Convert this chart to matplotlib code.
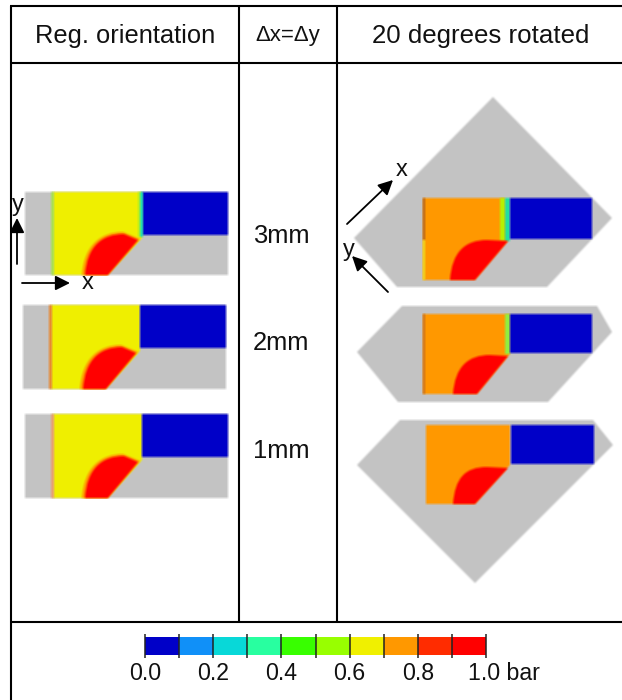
import numpy as np
import matplotlib
matplotlib.use('Agg')
import matplotlib.pyplot as plt
from matplotlib.patches import Polygon, Rectangle, PathPatch
from matplotlib.path import Path

plt.rcParams['font.family'] = ['Liberation Sans', 'DejaVu Sans']

# colour scale
levels = [0.0, 0.1, 0.2, 0.3, 0.4, 0.5, 0.6, 0.7, 0.8, 0.9, 1.0]
level_colors = ['#0000c8', '#1090f8', '#08d8d8', '#28ffa0', '#38ff00',
                '#98ff00', '#f0f000', '#ff9800', '#ff2c00', '#ff0000']
tick_values = [0.0, 0.2, 0.4, 0.6, 0.8, 1.0]
tick_labels = ['0.0', '0.2', '0.4', '0.6', '0.8', '1.0 bar']

# table text
headers = ['Reg. orientation', '\u0394x=\u0394y', '20 degrees rotated']
spacings = ['3mm', '2mm', '1mm']
spacing_y = [236, 343, 451]

GREY = '#c3c3c3'
BLUE = '#0000c8'
YELLOW = '#f0f000'
ORANGE = '#ff9800'
RED = '#ff0000'


def soften(img, dpi):
    # small blur, the original is a scaled up screenshot
    pad = 3
    img = np.pad(img, ((pad, pad), (pad, pad), (0, 0)))
    a = img[:, :, 3:]
    pm = np.concatenate([img[:, :, :3] * a, a], axis=2)
    for axis in (0, 1):
        pm = (np.roll(pm, 1, axis) + pm + np.roll(pm, -1, axis)) / 3
    al = pm[:, :, 3:]
    rgb = np.where(al > 0, pm[:, :, :3] / np.maximum(al, 1e-6), 0)
    return np.concatenate([rgb, al], axis=2), -pad, -pad


fig = plt.figure(figsize=(6.22, 7.0), dpi=100)
ax = fig.add_axes([0, 0, 1, 1])
ax.set_xlim(0, 622)
ax.set_ylim(700, 0)
ax.axis('off')


def add(p):
    p.set_agg_filter(soften)
    ax.add_patch(p)


def rect(x0, y0, x1, y1, c, z=2):
    add(Rectangle((x0, y0), x1 - x0, y1 - y0, fc=c, ec='none', zorder=z))


def poly(pts, c, z=3):
    add(Polygon(pts, fc=c, ec='none', zorder=z))


def blob(a, b, c, d, top, tip, bot, z=4, col=RED):
    # red corner region: curve from a up to b, along to c, diagonal down to d
    verts = [(a, bot), (a + 2, top + (bot - top) * 0.3),
             (b - 22, top), (b, top), (c, tip), (d, bot), (a, bot)]
    codes = [Path.MOVETO, Path.CURVE4, Path.CURVE4, Path.CURVE4,
             Path.LINETO, Path.LINETO, Path.CLOSEPOLY]
    add(PathPatch(Path(verts, codes), fc=col, ec='none', zorder=z))


def reg_panel(x0, y0, y1, edge, strip):
    # regular orientation panel, x0 is left edge of the 203 px wide picture
    rect(x0, y0, x0 + 203, y1, GREY)
    poly([(x0 + 28, y0), (x0 + 117, y0), (x0 + 117, y0 + 46), (x0 + 83, y1), (x0 + 28, y1)], YELLOW)
    rect(x0 + 26, y0, x0 + 29, y1, edge, 3)
    rect(x0 + 117, y0, x0 + 203, y0 + 43, BLUE, 3)
    if strip:
        rect(x0 + 113, y0, x0 + 115, y0 + 45, '#b0f020', 3)
        rect(x0 + 115, y0, x0 + 118, y0 + 45, '#20e0b0', 3)
    blob(x0 + 57, x0 + 98, x0 + 115, x0 + 82, y0 + 40, y0 + 47, y1, col='#ff9800')
    blob(x0 + 60, x0 + 99, x0 + 113, x0 + 83, y0 + 42, y0 + 48, y1)


reg_panel(25, 192, 275, '#a8e050', True)
reg_panel(23, 305, 389, '#e88830', False)
reg_panel(25, 414, 498, '#e8a070', False)

# rotated panels
poly([(493, 97), (612, 218), (547, 287), (397, 287), (354, 238)], GREY, 2)
poly([(423, 198), (505, 198), (508, 241), (475, 280), (423, 280)], ORANGE)
rect(500, 198, 505, 241, '#b8f000', 3)
rect(505, 198, 510, 241, '#20e0a0', 3)
rect(510, 198, 592, 239, BLUE, 3)
rect(423, 198, 425, 240, '#b06020', 4)
rect(423, 240, 425, 280, '#f0e020', 4)
blob(450, 487, 508, 475, 240, 241, 280)

poly([(402, 306), (597, 306), (612, 332), (548, 402), (398, 402), (357, 352)], GREY, 2)
poly([(423, 314), (510, 314), (510, 354), (477, 394), (423, 394)], ORANGE)
rect(505, 314, 510, 354, '#90f040', 3)
rect(510, 314, 592, 353, BLUE, 3)
rect(423, 314, 425, 394, '#c87020', 4)
blob(453, 490, 508, 477, 355, 356, 394)

poly([(400, 420), (593, 420), (613, 445), (475, 583), (357, 465)], GREY, 2)
poly([(426, 425), (510, 425), (510, 465), (475, 504), (426, 504)], ORANGE)
rect(511, 425, 594, 464, BLUE, 3)
blob(453, 487, 508, 475, 467, 468, 504)

# axis arrows
arrows = [((17, 264), (17, 218)), ((22, 283), (70, 283)),
          ((347, 224), (393, 180)), ((388, 292), (352, 256))]
for tail, tip in arrows:
    ax.annotate('', xy=tip, xytext=tail, zorder=6,
                arrowprops=dict(arrowstyle='-|>', color='black', lw=1.3,
                                mutation_scale=22, shrinkA=0, shrinkB=0))
for x, y, s in [(18, 205, 'y'), (88, 283, 'x'), (402, 170, 'x'), (349, 250, 'y')]:
    ax.text(x, y, s, ha='center', va='center', fontsize=17, color='#111111', zorder=7)

# table grid
lw = 1.5
for x in [11, 239, 337]:
    ax.plot([x, x], [6, 622], color='black', lw=lw, solid_capstyle='butt', zorder=5)
ax.plot([11, 11], [622, 700], color='black', lw=lw, solid_capstyle='butt', zorder=5)
for y in [6, 63, 622]:
    ax.plot([10, 622], [y, y], color='black', lw=lw, solid_capstyle='butt', zorder=5)

for x, s, fs in zip([125.5, 288, 481], headers, [18.4, 16.0, 18.6]):
    ax.text(x, 36, s, ha='center', va='center', fontsize=fs, color='#111111')
for y, s in zip(spacing_y, spacings):
    ax.text(281, y, s, ha='center', va='center', fontsize=18.4, color='#111111')

# colour bar
cax = fig.add_axes([145 / 622, 1 - 655 / 700, 341 / 622, 18 / 700])
cax.bar(levels[:-1], [1] * 10, width=0.1, align='edge', color=level_colors)
cax.set_xlim(0, 1)
cax.set_ylim(0, 1)
cax.axis('off')
cax.vlines(levels, -0.15, 1.15, color='#222222', lw=1.1, clip_on=False, zorder=5)
for v, s in zip(tick_values, tick_labels):
    left = s.endswith('bar')
    cax.annotate(s, (v, 0), xytext=(-13 if left else 0, -13.5), textcoords='offset points',
                 ha='left' if left else 'center', va='center',
                 fontsize=16.7, color='#111111', annotation_clip=False)

fig.savefig('out.png', dpi=100)
